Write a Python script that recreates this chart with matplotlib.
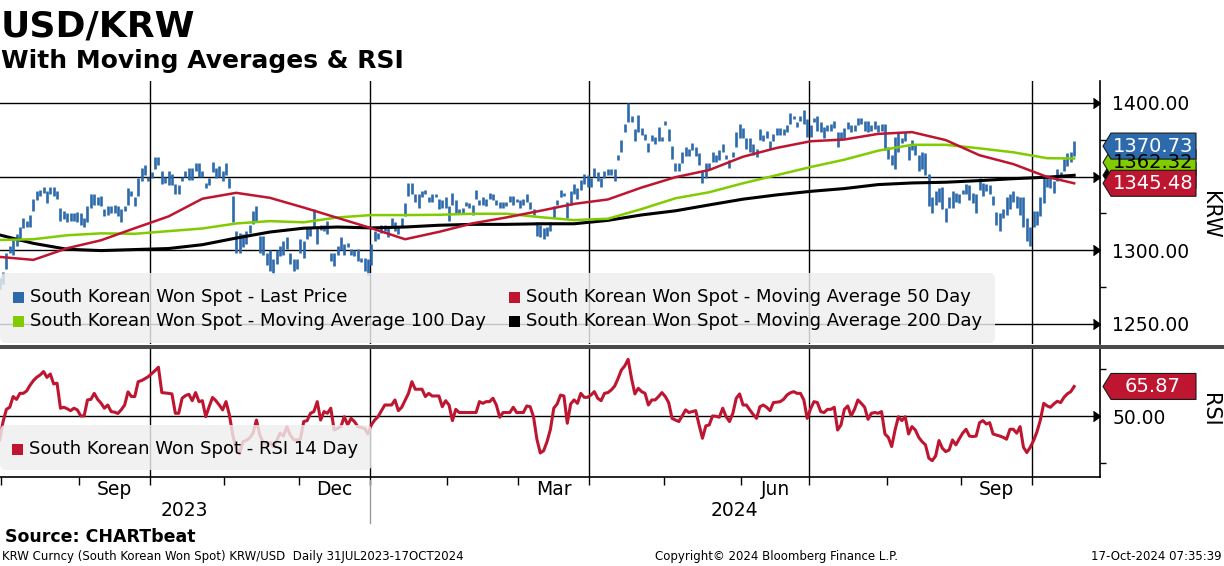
import numpy as np
import pandas as pd
import matplotlib
matplotlib.use("Agg")
import matplotlib.pyplot as plt
import matplotlib.transforms as mtransforms
from matplotlib.patches import Polygon, FancyBboxPatch, Rectangle

plt.rcParams['font.family'] = ['DejaVu Sans']

# ---- data ----
dates = pd.bdate_range('2023-07-31', '2024-10-17')

# daily high / low of USD/KRW spot
lo = [1274, 1277, 1287, 1298, 1297, 1303, 1306, 1315, 1316, 1316,
      1327, 1334, 1337, 1339, 1332, 1338, 1337, 1335, 1320, 1321,
      1319, 1320, 1320, 1319, 1317, 1316, 1319, 1329, 1331, 1331,
      1330, 1323, 1324, 1325, 1325, 1323, 1319, 1327, 1331, 1337,
      1330, 1337, 1347, 1351, 1347, 1349, 1355, 1358, 1345, 1346,
      1344, 1344, 1338, 1338, 1347, 1350, 1348, 1348, 1354, 1350,
      1350, 1342, 1344, 1353, 1349, 1350, 1347, 1351, 1342, 1319,
      1298, 1298, 1302, 1304, 1312, 1318, 1320, 1298, 1297, 1290,
      1286, 1284, 1291, 1296, 1297, 1301, 1291, 1286, 1287, 1298,
      1295, 1308, 1310, 1315, 1304, 1314, 1313, 1311, 1293, 1289,
      1297, 1300, 1297, 1302, 1297, 1296, 1293, 1292, 1286, 1283,
      1290, 1306, 1308, 1312, 1313, 1309, 1316, 1313, 1311, 1316,
      1323, 1337, 1338, 1333, 1329, 1336, 1338, 1333, 1333, 1336,
      1328, 1329, 1329, 1320, 1331, 1325, 1325, 1325, 1330, 1329,
      1324, 1335, 1331, 1331, 1330, 1335, 1334, 1331, 1329, 1329,
      1330, 1333, 1331, 1333, 1329, 1331, 1333, 1328, 1324, 1310,
      1309, 1308, 1310, 1313, 1322, 1331, 1336, 1337, 1322, 1331,
      1338, 1335, 1341, 1345, 1343, 1343, 1350, 1347, 1343, 1349,
      1351, 1351, 1347, 1361, 1367, 1380, 1387, 1387, 1374, 1380,
      1378, 1375, 1367, 1374, 1372, 1374, 1374, 1385, 1374, 1362,
      1354, 1354, 1359, 1364, 1364, 1368, 1364, 1358, 1346, 1349,
      1355, 1360, 1360, 1361, 1367, 1362, 1356, 1363, 1370, 1376,
      1376, 1369, 1367, 1365, 1363, 1375, 1374, 1376, 1369, 1374,
      1378, 1378, 1378, 1380, 1386, 1389, 1384, 1388, 1386, 1377,
      1377, 1387, 1381, 1380, 1376, 1381, 1381, 1383, 1370, 1375,
      1376, 1382, 1380, 1381, 1385, 1386, 1381, 1380, 1381, 1382,
      1380, 1381, 1368, 1362, 1358, 1355, 1367, 1373, 1374, 1361,
      1368, 1365, 1354, 1355, 1351, 1330, 1325, 1331, 1333, 1328,
      1319, 1329, 1329, 1333, 1332, 1338, 1338, 1334, 1332, 1325,
      1341, 1337, 1340, 1338, 1331, 1317, 1313, 1322, 1324, 1328,
      1333, 1329, 1324, 1316, 1306, 1303, 1316, 1317, 1323, 1332,
      1343, 1342, 1339, 1347, 1349, 1354, 1357, 1360, 1364]
hi = [1281, 1285, 1298, 1303, 1309, 1311, 1316, 1322, 1320, 1324,
      1335, 1340, 1341, 1343, 1340, 1343, 1343, 1340, 1329, 1327,
      1325, 1325, 1325, 1326, 1325, 1322, 1330, 1338, 1338, 1336,
      1337, 1328, 1330, 1330, 1331, 1330, 1328, 1330, 1342, 1340,
      1336, 1349, 1356, 1358, 1350, 1353, 1363, 1363, 1354, 1350,
      1354, 1352, 1345, 1344, 1350, 1354, 1356, 1356, 1359, 1359,
      1354, 1346, 1349, 1360, 1356, 1357, 1354, 1359, 1349, 1337,
      1313, 1312, 1311, 1313, 1317, 1327, 1330, 1310, 1310, 1298,
      1300, 1294, 1300, 1303, 1306, 1309, 1298, 1294, 1294, 1308,
      1306, 1315, 1315, 1328, 1315, 1317, 1317, 1320, 1298, 1298,
      1303, 1309, 1304, 1305, 1301, 1300, 1301, 1295, 1295, 1294,
      1304, 1313, 1312, 1317, 1317, 1315, 1322, 1319, 1316, 1322,
      1332, 1346, 1346, 1338, 1338, 1340, 1341, 1336, 1338, 1338,
      1335, 1334, 1336, 1330, 1339, 1334, 1328, 1329, 1333, 1332,
      1331, 1341, 1334, 1336, 1335, 1339, 1338, 1334, 1333, 1333,
      1333, 1337, 1337, 1335, 1334, 1335, 1338, 1333, 1328, 1319,
      1317, 1315, 1316, 1319, 1330, 1334, 1341, 1339, 1333, 1340,
      1345, 1342, 1348, 1352, 1351, 1349, 1356, 1353, 1349, 1354,
      1355, 1355, 1355, 1365, 1375, 1386, 1400, 1391, 1382, 1392,
      1383, 1379, 1373, 1378, 1377, 1384, 1377, 1388, 1382, 1371,
      1359, 1359, 1367, 1370, 1369, 1373, 1370, 1366, 1354, 1359,
      1359, 1367, 1365, 1368, 1372, 1365, 1361, 1367, 1380, 1386,
      1383, 1376, 1376, 1372, 1369, 1382, 1378, 1381, 1374, 1379,
      1383, 1383, 1382, 1385, 1393, 1391, 1387, 1391, 1395, 1389,
      1385, 1390, 1391, 1387, 1384, 1385, 1386, 1388, 1380, 1380,
      1383, 1387, 1385, 1385, 1390, 1390, 1388, 1388, 1385, 1388,
      1385, 1386, 1386, 1370, 1365, 1377, 1380, 1376, 1380, 1371,
      1375, 1372, 1365, 1367, 1366, 1352, 1336, 1340, 1342, 1343,
      1329, 1336, 1340, 1339, 1338, 1341, 1345, 1344, 1339, 1338,
      1349, 1346, 1345, 1344, 1337, 1326, 1325, 1328, 1336, 1338,
      1340, 1337, 1336, 1336, 1322, 1316, 1327, 1327, 1336, 1351,
      1351, 1349, 1347, 1355, 1353, 1362, 1366, 1367, 1374]

# moving averages, one reading every 10 trading days (plus the last day)
ma50 = [1295.5, 1293.5, 1301.4, 1306.8, 1315.0, 1323.0, 1335.0, 1339.0, 1335.6, 1329.0,
        1322.0, 1315.0, 1307.5, 1312.5, 1318.3, 1322.3, 1326.8, 1331.5, 1334.5, 1342.6,
        1349.6, 1354.5, 1363.5, 1369.5, 1374.0, 1375.2, 1379.0, 1380.2, 1374.8, 1364.5,
        1358.5, 1349.8, 1345.48]
ma100 = [1307.0, 1307.5, 1310.2, 1311.5, 1311.2, 1313.0, 1314.8, 1318.2, 1319.8, 1319.0,
         1322.3, 1323.9, 1323.9, 1324.1, 1324.8, 1324.8, 1322.5, 1320.5, 1321.4, 1328.0,
         1335.3, 1339.4, 1345.5, 1351.0, 1356.5, 1361.5, 1367.6, 1371.6, 1371.6, 1369.2,
         1366.5, 1362.5, 1362.32]
ma200 = [1310.4, 1304.7, 1300.7, 1299.8, 1300.5, 1301.2, 1303.8, 1308.3, 1312.4, 1315.0,
         1315.8, 1315.2, 1315.8, 1317.0, 1317.6, 1317.6, 1318.0, 1318.0, 1320.3, 1324.0,
         1326.8, 1330.8, 1334.7, 1337.6, 1340.0, 1341.9, 1344.6, 1345.7, 1346.2, 1347.3,
         1348.6, 1349.6, 1350.9]

# RSI 14 day
rsi = [37.4, 47, 53.7, 54.8, 60.5, 59, 62.2, 62.2, 63.5, 66.5,
       69, 70.8, 72, 73.8, 70.7, 72.5, 67.2, 67.6, 54.3, 54.8,
       54, 53, 54.3, 53.4, 50.2, 50.2, 58.7, 59, 62.2, 59,
       57, 54.3, 56, 52.5, 52.2, 51.5, 53.5, 56, 63, 60.5,
       60.5, 68.4, 69, 70, 71.1, 72.7, 74.3, 76.1, 62.6, 62.4,
       62.2, 61.9, 51.6, 51.6, 59.6, 61, 61.7, 58.3, 62.6, 57.8,
       58.3, 49.8, 55.1, 60, 58.3, 56, 53.4, 57.8, 50.7, 40,
       33, 30, 36.5, 37.1, 38.5, 41, 48, 40, 36, 35.3,
       36, 33.9, 37, 41, 39.5, 44.5, 40, 37.6, 37.4, 37.8,
       47.2, 47.7, 51.6, 52.5, 57.8, 48, 52.5, 51.6, 54.3, 42.7,
       43.6, 44.5, 49.8, 45.4, 48.9, 47.2, 44.5, 44, 43.6, 40.6,
       45.4, 48, 49.8, 53, 56, 56, 56, 58.7, 53, 54.8,
       58.5, 62.2, 68.4, 64.4, 64.4, 64.4, 60.5, 62.2, 60.8, 60.8,
       60.8, 55.1, 58.3, 56, 47.7, 53.7, 52, 52, 52, 52,
       52, 52, 57.8, 56.9, 57.8, 57.8, 59.6, 56, 49.5, 52,
       52, 52, 54.8, 52, 52, 52, 55.5, 55.1, 49.8, 37.8,
       30.5, 31.7, 36.5, 43, 54.3, 56.6, 61.3, 60.8, 46.3, 56.6,
       58.7, 56.9, 62.2, 60.1, 60.1, 61.3, 63.1, 59.6, 58.3, 62.2,
       62.6, 64, 66, 70, 74.6, 76.8, 80.3, 70.2, 61.9, 64.9,
       63.1, 62.2, 56, 58.7, 58.7, 60.5, 62.6, 60.5, 57.3, 48.9,
       48, 47.2, 50.2, 53.4, 52, 52.5, 53, 45.4, 38.3, 44.9,
       45.4, 50.2, 50, 49.5, 54.3, 49.8, 47.2, 51.6, 59.6, 61.9,
       56, 56, 53.4, 51, 48.9, 55.1, 56, 54.8, 53, 57.3,
       57.5, 57.8, 59, 61.3, 62.5, 63.1, 62.2, 62.2, 58.7, 48.9,
       54, 57.8, 57.3, 52.5, 52, 53.7, 53.7, 54.8, 42.7, 45.4,
       53.7, 55.5, 50.2, 53.7, 58.7, 56.9, 54.8, 48.4, 51.6, 52,
       51.6, 52.5, 40.6, 38.8, 33.9, 42.7, 49.8, 47.7, 49.8, 40.6,
       44.5, 42.7, 38.8, 36.5, 34.8, 27.7, 26.4, 28.9, 37.1, 33,
       31.2, 32.1, 37.4, 34.8, 38, 41, 43.1, 39.5, 39.2, 39.5,
       46.6, 47.7, 45.9, 46.6, 40.6, 40, 39.5, 38.8, 37.8, 43.1,
       43.1, 41, 44.5, 33.5, 30.7, 33.5, 37.1, 41.8, 48, 56.9,
       55.5, 54.8, 56.6, 58, 57.3, 60.1, 62, 63.1, 65.87]

last_price = 1370.73

BLUE = '#2d6aab'
RED = '#be1530'
GREEN = '#80cc00'
BLACK = '#000000'

W, H = 1224, 566
fig = plt.figure(figsize=(W / 100, H / 100), dpi=100)
fig.patch.set_facecolor('white')


def fx(px):
    return px / W


def fy(py):
    return 1 - py / H


idx = np.arange(len(dates))
ma_idx = list(range(0, len(dates), 10)) + [len(dates) - 1]
xlim = (0.11, 0.11 + 1100 / 3.379)

month_starts = [i for i in range(1, len(dates)) if dates[i].month != dates[i - 1].month]
month_bounds = [i - 0.5 for i in month_starts]
quarter_bounds = [i - 0.5 for i in month_starts if dates[i].month in (1, 4, 7, 10)]

# ---- top panel: price + moving averages ----
ax1 = fig.add_axes([0, fy(344), fx(1100), (344 - 81) / H])
ax1.set_xlim(*xlim)
ax1.set_ylim(1236.4, 1414.9)
for v in [1250, 1300, 1350, 1400]:
    ax1.axhline(v, color='black', lw=1.0, zorder=1)
for b in quarter_bounds:
    ax1.axvline(b, color='black', lw=1.0, zorder=1)
ax1.vlines(idx, lo, hi, colors=BLUE, linewidth=1.9, zorder=2)
ax1.plot(ma_idx, ma200, color=BLACK, lw=2.2, zorder=3)
ax1.plot(ma_idx, ma100, color=GREEN, lw=1.8, zorder=4)
ax1.plot(ma_idx, ma50, color=RED, lw=1.8, zorder=5)

for s in ['left', 'top', 'bottom']:
    ax1.spines[s].set_visible(False)
ax1.spines['right'].set_linewidth(1.2)
ax1.yaxis.tick_right()
ax1.set_yticks([1250, 1300, 1350, 1400])
ax1.set_yticks([1275, 1325, 1375], minor=True)
# the 1350 label sits under the last-value tags, so it is left blank
ax1.set_yticklabels(['1250.00', '1300.00', '', '1400.00'])
ax1.tick_params(axis='y', which='major', length=0, pad=9, labelsize=13.5)
ax1.tick_params(axis='y', which='minor', length=4, width=1, direction='out')
ax1.set_xticks([])
tr1 = mtransforms.blended_transform_factory(ax1.transAxes, ax1.transData)
ax1.plot([1.0] * 4, [1250, 1300, 1350, 1400], ls='none', marker=5, ms=7,
         color='black', transform=tr1, clip_on=False)

# ---- bottom panel: RSI ----
ax2 = fig.add_axes([0, fy(477), fx(1100), (477 - 349) / H])
ax2.set_xlim(*xlim)
ax2.set_ylim(17.7, 85.8)
ax2.axhline(50, color='black', lw=1.0, zorder=1)
for b in quarter_bounds:
    ax2.axvline(b, color='black', lw=1.0, zorder=1)
ax2.plot(idx, rsi, color=RED, lw=2.2, zorder=3)

for s in ['left', 'top']:
    ax2.spines[s].set_visible(False)
ax2.spines['right'].set_linewidth(1.2)
ax2.spines['bottom'].set_linewidth(1.2)
ax2.yaxis.tick_right()
ax2.set_yticks([50])
ax2.set_yticks([25, 75], minor=True)
ax2.yaxis.set_major_formatter('{x:.2f}')
ax2.tick_params(axis='y', which='major', length=0, pad=9, labelsize=13.5)
ax2.tick_params(axis='y', which='minor', length=4, width=1, direction='out')
tr2y = mtransforms.blended_transform_factory(ax2.transAxes, ax2.transData)
ax2.plot([1.0], [50], ls='none', marker=5, ms=7, color='black',
         transform=tr2y, clip_on=False)

# month ticks and quarter labels
ax2.set_xticks(month_bounds)
ax2.set_xticklabels([])
ax2.tick_params(axis='x', which='major', length=6, width=1, direction='out')
lab_pos, lab_txt = [], []
for k, m in enumerate(month_starts[:-1]):
    if dates[m].month in (3, 6, 9, 12):
        lab_pos.append((m - 0.5 + month_starts[k + 1] - 0.5) / 2)
        lab_txt.append(dates[m].strftime('%b'))
ax2.set_xticks(lab_pos, minor=True)
ax2.set_xticklabels(lab_txt, minor=True)
ax2.tick_params(axis='x', which='minor', length=0, pad=2, labelsize=13.5)

jan = [i - 0.5 for i in month_starts if dates[i].month == 1][0]
trx = mtransforms.blended_transform_factory(ax2.transData, ax2.transAxes)
ax2.plot([jan, jan], [-0.02, -0.36], color='#9a9a9a', lw=1, transform=trx, clip_on=False)
ax2.text((xlim[0] + jan) / 2, -0.265, '2023', transform=trx, ha='center', va='center', fontsize=13.5)
ax2.text((jan + xlim[1]) / 2, -0.265, '2024', transform=trx, ha='center', va='center', fontsize=13.5)

# separator between the panels
fig.add_artist(Rectangle((0, fy(348.5)), 1, 3.5 / H, transform=fig.transFigure,
                         facecolor='#4a4a4a', edgecolor='none', zorder=6))

# ---- legends ----
ident = mtransforms.IdentityTransform()


def legend_box(x0, x1, y0, y1):
    box = FancyBboxPatch((x0, H - y1), x1 - x0, y1 - y0, boxstyle='round,pad=0,rounding_size=6',
                         transform=ident, facecolor='#efefef', edgecolor='none', alpha=0.82, zorder=5)
    fig.add_artist(box)


def legend_item(px, py, color, text):
    fig.add_artist(Rectangle((px - 5.5, H - py - 5.5), 11, 11, transform=ident,
                             facecolor=color, edgecolor='none', zorder=7))
    fig.text(fx(px + 12), fy(py), text, ha='left', va='center', fontsize=13, zorder=7)


legend_box(0, 995, 273, 343)
legend_item(18, 297, BLUE, 'South Korean Won Spot - Last Price')
legend_item(514, 297, RED, 'South Korean Won Spot - Moving Average 50 Day')
legend_item(18, 321, GREEN, 'South Korean Won Spot - Moving Average 100 Day')
legend_item(514, 321, BLACK, 'South Korean Won Spot - Moving Average 200 Day')

legend_box(0, 372, 425, 470)
legend_item(17, 449, RED, 'South Korean Won Spot - RSI 14 Day')

# ---- last value tags on the right ----


def value_tag(ax, value, face, tcolor, text, shift=0.0):
    y = ax.transData.transform((0, value))[1] - shift
    h = 13
    pts = [(1103, y), (1111, y + h), (1196, y + h), (1196, y - h), (1111, y - h)]
    fig.add_artist(Polygon(pts, closed=True, transform=ident, facecolor=face,
                           edgecolor='#1a1a1a', lw=0.8, zorder=8))
    if text:
        fig.text(fx(1153), y / H, text, ha='center', va='center', color=tcolor,
                 fontsize=14, zorder=9)


value_tag(ax1, ma200[-1], BLACK, 'white', '')
value_tag(ax1, ma100[-1], GREEN, 'black', f'{ma100[-1]:.2f}', shift=4)
value_tag(ax1, ma50[-1], RED, 'white', f'{ma50[-1]:.2f}')
value_tag(ax1, last_price, BLUE, 'white', f'{last_price:.2f}')
value_tag(ax2, rsi[-1], RED, 'white', f'{rsi[-1]:.2f}')

fig.text(fx(1210), fy(215), 'KRW', rotation=270, ha='center', va='center', fontsize=15)
fig.text(fx(1210), fy(410), 'RSI', rotation=270, ha='center', va='center', fontsize=15)

# ---- titles and footer ----
fig.text(fx(1), fy(36), 'USD/KRW', fontsize=26, fontweight='bold', ha='left', va='baseline')
fig.text(fx(1), fy(68), 'With Moving Averages & RSI', fontsize=18, fontweight='bold',
         ha='left', va='baseline')
fig.text(fx(5), fy(542), 'Source: CHARTbeat', fontsize=12.5, fontweight='bold',
         ha='left', va='baseline')
fig.text(fx(2), fy(560), 'KRW Curncy (South Korean Won Spot) KRW/USD  Daily 31JUL2023-17OCT2024',
         fontsize=8.5, ha='left', va='baseline')
fig.text(fx(655), fy(560), 'Copyright\u00a9 2024 Bloomberg Finance L.P.', fontsize=8.5,
         ha='left', va='baseline')
fig.text(fx(1222), fy(560), '17-Oct-2024 07:35:39', fontsize=8.5, ha='right', va='baseline')

fig.savefig('out.png', dpi=100)
